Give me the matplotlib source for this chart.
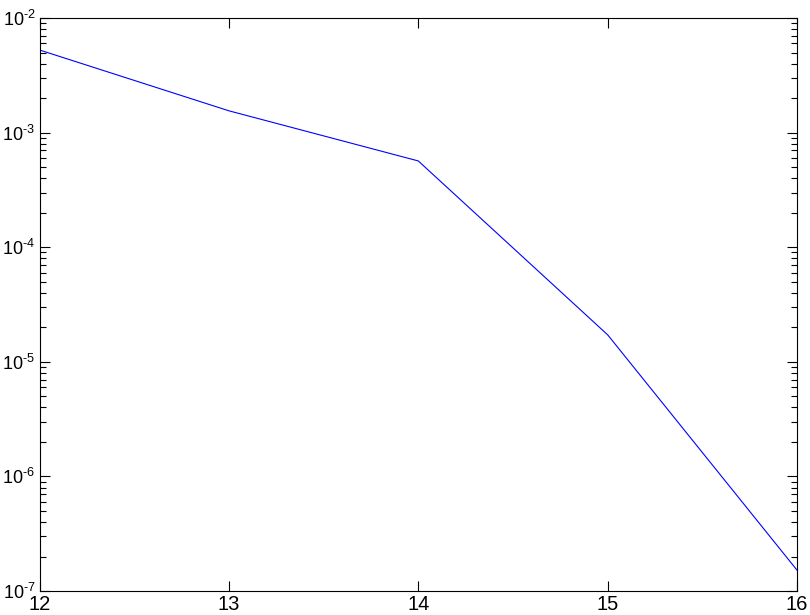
import matplotlib
matplotlib.use('Agg')
import matplotlib.pyplot as plt
import matplotlib as mpl
from matplotlib.ticker import FuncFormatter
import numpy as np

mpl.rcParams['font.family'] = ['Liberation Sans', 'DejaVu Sans']
mpl.rcParams['mathtext.fontset'] = 'custom'
mpl.rcParams['mathtext.rm'] = 'Liberation Sans'
mpl.rcParams['mathtext.it'] = 'Liberation Sans'

# 数据
x = [12, 13, 14, 15, 16]
y = [5.26e-3, 1.55e-3, 5.66e-4, 1.72e-5, 1.52e-7]


def log_label(v, pos):
    e = int(round(np.log10(v)))
    return r'$\mathregular{10^{\text{-}%d}}$' % (-e)


fig = plt.figure(figsize=(8.1, 6.15), dpi=100)
ax = fig.add_axes([0.0488, 0.039, 0.9352, 0.9317])
ax.plot(x, y, color='#0000ff', lw=0.8)
ax.set_yscale('log')
ax.set_xlim(12, 16)
ax.set_ylim(1e-7, 1e-2)
ax.set_xticks([12, 13, 14, 15, 16])
ax.yaxis.set_major_formatter(FuncFormatter(log_label))

ax.tick_params(which='both', direction='in', top=True, right=True, width=0.8)
ax.tick_params(which='major', length=7)
ax.tick_params(which='minor', length=4)
ax.tick_params(axis='y', pad=3, labelsize=13)
ax.tick_params(axis='x', pad=3, labelsize=14.5)
for s in ax.spines.values():
    s.set_linewidth(0.8)

fig.savefig('out.png', dpi=100)
